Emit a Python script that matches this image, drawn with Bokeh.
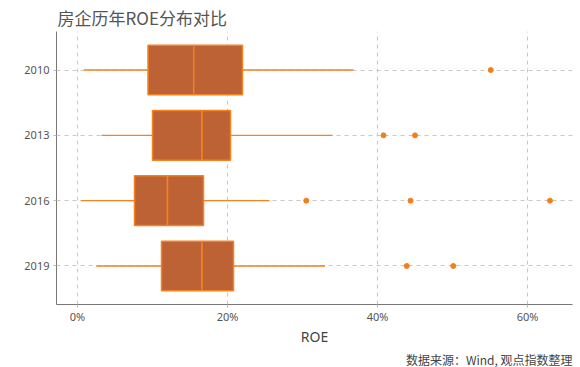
from bokeh.plotting import figure
from bokeh.models import FactorRange, Range1d, NumeralTickFormatter, Title, FixedTicker
from bokeh.embed import file_html
from bokeh.resources import INLINE

years = ["2019", "2016", "2013", "2010"]
q1 = [11.2, 7.6, 10.0, 9.4]
med = [16.6, 12.0, 16.6, 15.5]
q3 = [20.8, 16.8, 20.4, 22.0]
lo = [2.5, 0.45, 3.2, 0.85]
hi = [33.0, 25.6, 34.0, 36.8]
out_year = ["2019", "2019", "2016", "2016", "2016", "2013", "2013", "2010"]
out_val = [43.9, 50.1, 30.5, 44.4, 63.0, 40.8, 45.0, 55.1]

def pct(v):
    return [x / 100 for x in v]

FILL = "#BD6234"
LINE = "#F5821F"

p = figure(width=580, height=367, output_backend="svg", toolbar_location=None,
           y_range=FactorRange(*years, range_padding=0.045),
           x_range=Range1d(-0.028, 0.66),
           min_border_left=56, min_border_right=8, min_border_top=30, min_border_bottom=61)

p.title.text = "房企历年ROE分布对比"
p.title.text_font = "Noto Sans CJK SC"
p.title.text_font_size = "17px"
p.title.text_font_style = "normal"
p.title.text_color = "#555555"
p.title.offset = 1
p.title.standoff = 4

p.add_layout(Title(text="数据来源：Wind, 观点指数整理", align="right",
                   text_font="Noto Sans CJK SC", text_font_size="12px",
                   text_font_style="normal", text_color="#444444", standoff=0), "below")

p.segment(x0=pct(lo), y0=years, x1=pct(q1), y1=years, line_color=LINE, line_width=1.4)
p.segment(x0=pct(q3), y0=years, x1=pct(hi), y1=years, line_color=LINE, line_width=1.4)
p.hbar(y=years, left=pct(q1), right=pct(med), height=0.76, fill_color=FILL,
       line_color=LINE, line_width=1.5)
p.hbar(y=years, left=pct(med), right=pct(q3), height=0.76, fill_color=FILL,
       line_color=LINE, line_width=1.5)
p.scatter(x=pct(out_val), y=out_year, size=5, fill_color="#F57F17", line_color="#F57F17")

p.xaxis.ticker = FixedTicker(ticks=[0, 0.2, 0.4, 0.6])
p.xaxis.formatter = NumeralTickFormatter(format="0%")
p.xaxis.axis_label = "ROE"
p.xaxis.axis_label_text_font = "Noto Sans"
p.xaxis.axis_label_text_font_size = "14px"
p.xaxis.axis_label_text_font_style = "normal"
p.xaxis.axis_label_text_color = "#444444"
p.xaxis.axis_label_standoff = 0

for ax in (p.xaxis, p.yaxis):
    ax.axis_line_color = "#777777"
    ax.axis_line_width = 1
    ax.major_tick_line_color = "#BBBBBB"
    ax.major_tick_out = 3
    ax.major_tick_in = 0
    ax.minor_tick_line_color = None
    ax.major_label_text_font = "Noto Sans"
    ax.major_label_text_font_size = "11px"
    ax.major_label_text_color = "#555555"
p.xaxis.major_label_standoff = 1
p.yaxis.major_label_standoff = 4

p.xgrid.grid_line_color = "#C8C8C8"
p.xgrid.grid_line_dash = "4 4"
p.ygrid.grid_line_color = "#C8C8C8"
p.ygrid.grid_line_dash = "4 4"
p.outline_line_color = None

open("out.html", "w").write(file_html(p, INLINE))
